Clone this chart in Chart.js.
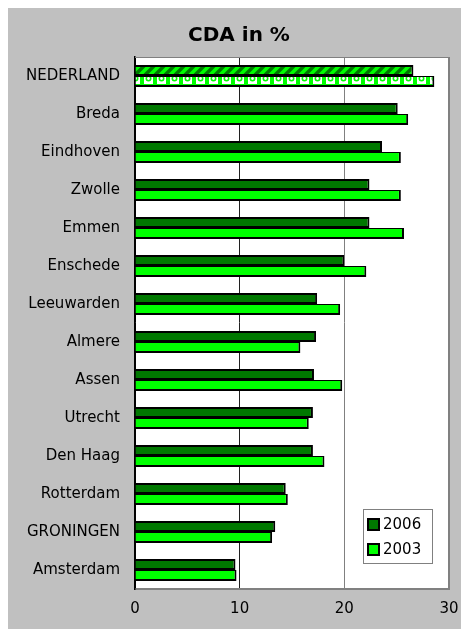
<!DOCTYPE html>
<html>
<head>
<meta charset="utf-8">
<script src="https://cdn.jsdelivr.net/npm/chart.js@4/dist/chart.umd.min.js"></script>
<style>
  html, body { margin: 0; padding: 0; background: #fff; }
  canvas { display: block; }
</style>
</head>
<body>
<canvas id="cdaChart" width="461" height="629"></canvas>
<script>
// CDA share per city, 2006 vs 2003
const chartTitle = 'CDA in %';
const cities = ['NEDERLAND', 'Breda', 'Eindhoven', 'Zwolle', 'Emmen', 'Enschede', 'Leeuwarden',
  'Almere', 'Assen', 'Utrecht', 'Den Haag', 'Rotterdam', 'GRONINGEN', 'Amsterdam'];
const cda2006 = [26.6, 25.1, 23.6, 22.4, 22.4, 20.0, 17.4, 17.3, 17.1, 17.0, 17.0, 14.4, 13.4, 9.6];
const cda2003 = [28.6, 26.1, 25.4, 25.4, 25.7, 22.1, 19.6, 15.8, 19.8, 16.6, 18.1, 14.6, 13.1, 9.7];
const xTicks = [0, 10, 20, 30];

const DARK = '#007800';
const BRIGHT = '#00ff00';
const fontFamily = "Verdana, 'DejaVu Sans', sans-serif";

// fill patterns for the national bars
function makePattern(w, h, paint) {
  const c = document.createElement('canvas');
  c.width = w; c.height = h;
  const g = c.getContext('2d');
  paint(g, w, h);
  return g.createPattern(c, 'repeat');
}
const hatch2006 = makePattern(10, 10, (g, w, h) => {
  g.fillStyle = BRIGHT;
  g.fillRect(0, 0, w, h);
  g.strokeStyle = DARK;
  g.lineWidth = 3.5;
  g.beginPath();
  g.moveTo(-3, h + 3); g.lineTo(w + 3, -3);
  g.moveTo(-3, 3); g.lineTo(3, -3);
  g.moveTo(w - 3, h + 3); g.lineTo(w + 3, h - 3);
  g.stroke();
});
const dots2003 = makePattern(13, 12, (g, w, h) => {
  g.fillStyle = BRIGHT;
  g.fillRect(0, 0, w, h);
  g.fillStyle = '#fff';
  g.fillRect(1, 3, 9, 9);
  g.strokeStyle = BRIGHT;
  g.lineWidth = 1.6;
  g.beginPath();
  g.arc(5.5, 6.5, 2.2, 0, Math.PI * 2);
  g.stroke();
});

const bg2006 = cda2006.map((v, i) => i === 0 ? hatch2006 : DARK);
const bg2003 = cda2003.map((v, i) => i === 0 ? dots2003 : BRIGHT);

const frame = {
  id: 'frame',
  beforeDraw(chart) {
    const { ctx, chartArea: a, width, height } = chart;
    ctx.save();
    ctx.fillStyle = '#fff';
    ctx.fillRect(0, 0, width, height);
    ctx.fillStyle = '#c0c0c0';
    ctx.fillRect(8, 8, width - 8, height - 8);
    ctx.fillStyle = '#fff';
    ctx.fillRect(a.left, a.top, a.right - a.left, a.bottom - a.top);
    ctx.fillStyle = '#000';
    ctx.font = 'bold 20px ' + fontFamily;
    ctx.textAlign = 'center';
    ctx.textBaseline = 'middle';
    ctx.fillText(chartTitle, 239, 36);
    ctx.restore();
  },
  afterDraw(chart) {
    const { ctx, chartArea: a } = chart;
    ctx.save();
    ctx.strokeStyle = '#808080';
    ctx.lineWidth = 1;
    ctx.beginPath();
    ctx.moveTo(a.left, a.top + 0.5);
    ctx.lineTo(a.right, a.top + 0.5);
    ctx.stroke();

    // legend box
    const x = 363, y = 509, w = 69, h = 54;
    ctx.fillStyle = '#fff';
    ctx.fillRect(x, y, w, h);
    ctx.strokeStyle = '#808080';
    ctx.strokeRect(x + 0.5, y + 0.5, w, h);
    ctx.font = '15px ' + fontFamily;
    ctx.textBaseline = 'middle';
    chart.data.datasets.forEach((ds, i) => {
      const sy = y + 10 + i * 25;
      ctx.fillStyle = ds.legendColor;
      ctx.fillRect(x + 5, sy, 11, 11);
      ctx.strokeStyle = '#000';
      ctx.lineWidth = 2;
      ctx.strokeRect(x + 5, sy, 11, 11);
      ctx.fillStyle = '#000';
      ctx.fillText(ds.label, x + 20, sy + 6);
    });
    ctx.restore();
  }
};

new Chart(document.getElementById('cdaChart'), {
  type: 'bar',
  data: {
    labels: cities,
    datasets: [
      { label: '2006', data: cda2006, backgroundColor: bg2006, legendColor: DARK,
        borderColor: '#000', borderWidth: { top: 2, right: 2, bottom: 2, left: 0 }, borderSkipped: false },
      { label: '2003', data: cda2003, backgroundColor: bg2003, legendColor: BRIGHT,
        borderColor: '#000', borderWidth: { top: 1, right: 2, bottom: 2, left: 0 }, borderSkipped: false }
    ]
  },
  options: {
    indexAxis: 'y',
    responsive: false,
    animation: false,
    devicePixelRatio: 1,
    // 14 rows of 38px keep bar edges on whole pixels
    layout: { padding: { left: 8, right: 12, top: 57, bottom: 0 } },
    categoryPercentage: 22 / 38,
    barPercentage: 1.0,
    plugins: {
      legend: { display: false },
      tooltip: { enabled: false },
      title: { display: false }
    },
    scales: {
      x: {
        min: 0, max: 30,
        afterBuildTicks: s => { s.ticks = xTicks.map(v => ({ value: v })); },
        afterFit: s => { s.height = 40; },
        grid: {
          drawTicks: true,
          tickLength: 11,
          tickColor: 'rgba(0,0,0,0)',
          color: c => c.tick.value === 10 ? '#202020' : (c.tick.value === 0 ? '#000' : '#808080'),
          lineWidth: c => c.tick.value === 30 ? 2 : 1
        },
        border: { display: true, color: '#808080', width: 2 },
        ticks: { color: '#000', padding: 0, font: { family: fontFamily, size: 15 } }
      },
      y: {
        afterFit: s => { s.width = 127; },
        grid: { display: false, drawTicks: false },
        border: { display: true, color: '#000', width: 1.5 },
        ticks: { color: '#000', padding: 15, font: { family: fontFamily, size: 15 } }
      }
    }
  },
  plugins: [frame]
});
</script>
</body>
</html>
